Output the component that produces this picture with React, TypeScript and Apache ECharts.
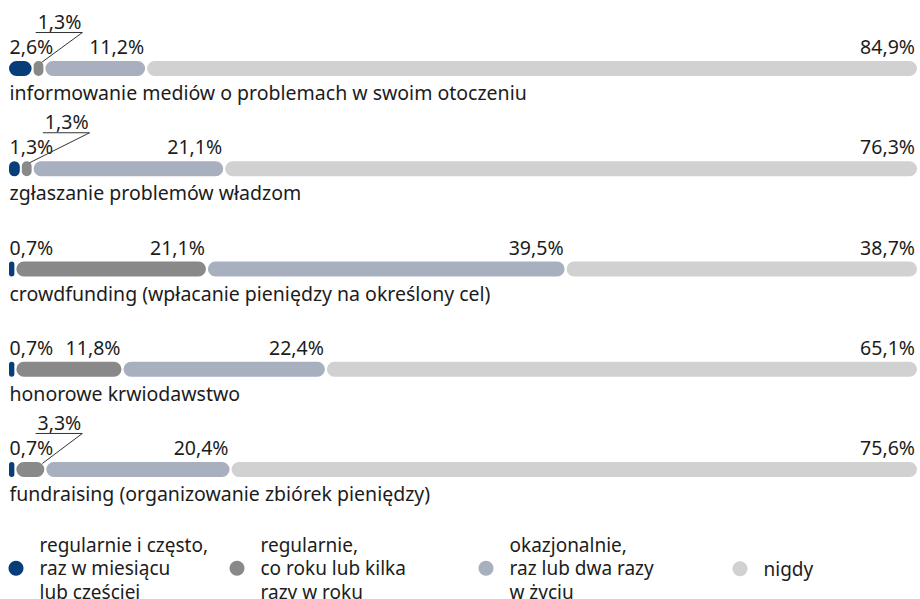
import React, { useEffect, useRef } from 'react';
import * as echarts from 'echarts';

const categories = [
  'informowanie mediów o problemach w swoim otoczeniu',
  'zgłaszanie problemów władzom',
  'crowdfunding (wpłacanie pieniędzy na określony cel)',
  'honorowe krwiodawstwo',
  'fundraising (organizowanie zbiórek pieniędzy)',
];
const seriesNames = [
  'regularnie i często,\nraz w miesiącu\nlub częściej',
  'regularnie,\nco roku lub kilka\nrazy w roku',
  'okazjonalnie,\nraz lub dwa razy\nw życiu',
  'nigdy',
];
const regularOften = [2.6, 1.3, 0.7, 0.7, 0.7];
const regularYearly = [1.3, 1.3, 21.1, 11.8, 3.3];
const occasional = [11.2, 21.1, 39.5, 22.4, 20.4];
const never = [84.9, 76.3, 38.7, 65.1, 75.6];
// rows where the "regularnie" label is shown as a call-out above
const calloutRows = [true, true, false, false, true];

const COLORS = ['#073d78', '#898989', '#a8afbe', '#d1d1d1'];
const TEXT = '#1c1c1c';
const FONT_FAMILY = '"Noto Sans", sans-serif';
const FONT_SIZE = 19.5;
const LEGEND_FONT_SIZE = 19;
const CALLOUT_SHIFT = [37, 56, 0, 0, 36];
const LEGEND_LEFT = [8.5, 229.5, 478.5, 732.5];

function measure(text: string): number {
  const c = document.createElement('canvas').getContext('2d');
  if (!c) return text.length * 10;
  c.font = `${FONT_SIZE}px ${FONT_FAMILY}`;
  return c.measureText(text).width;
}

const fmt = (v: number) => v.toFixed(1).replace('.', ',') + '%';

export default function App() {
  const ref = useRef<HTMLDivElement>(null);
  useEffect(() => {
    if (!ref.current) return;
    const chart = echarts.init(ref.current, undefined, { renderer: 'svg' });
    const all = [regularOften, regularYearly, occasional, never];
    const seriesData = all.map((arr, si) =>
      arr.map((v, row) => {
        let start = 0;
        for (let k = 0; k < si; k++) start += all[k][row];
        return [start, start + v, row, v];
      })
    );

    const renderItem = (si: number) => (params: any, api: any) => {
      const start = api.value(0);
      const end = api.value(1);
      const row = api.value(2);
      const val = api.value(3);
      const p0 = api.coord([start, row]);
      const p1 = api.coord([end, row]);
      const cy = p0[1];
      const h = 15;
      const x0 = p0[0] + (si > 0 ? 1 : 0);
      const w = Math.max(p1[0] - x0 - (si < 3 ? 1 : 0), 1);
      const children: any[] = [
        {
          type: 'rect',
          shape: { x: x0, y: cy - h / 2, width: w, height: h, r: Math.min(h / 2, w / 2) },
          style: { fill: COLORS[si] },
        },
      ];
      const text = fmt(val);
      const font = { fontSize: FONT_SIZE, fontFamily: FONT_FAMILY, fill: TEXT };
      if (si === 0) {
        children.push({
          type: 'text',
          style: { ...font, text, x: p0[0] + 0.5, y: cy - 22, align: 'left', verticalAlign: 'middle' },
        });
        children.push({
          type: 'text',
          style: { ...font, text: categories[row], x: p0[0] + 0.5, y: cy + 24, align: 'left', verticalAlign: 'middle' },
        });
      } else if (si === 1 && calloutRows[row]) {
        const right = p1[0] + CALLOUT_SHIFT[row];
        const tw = measure(text);
        const uy = cy - 36;
        children.push({
          type: 'text',
          style: { ...font, text, x: right, y: cy - 47, align: 'right', verticalAlign: 'middle' },
        });
        children.push({
          type: 'polyline',
          shape: { points: [[right - tw - 2, uy], [right + 1, uy], [p1[0] - 3, cy - 6]] },
          style: { stroke: '#333333', lineWidth: 1, fill: null },
        });
      } else {
        children.push({
          type: 'text',
          style: { ...font, text, x: p1[0] - 2, y: cy - 22, align: 'right', verticalAlign: 'middle' },
        });
      }
      return { type: 'group', children };
    };

    const option: any = {
      animation: false,
      grid: { left: 9, right: 3, top: 18.4, bottom: 79.4 },
      xAxis: { type: 'value', min: 0, max: 100, show: false },
      yAxis: { type: 'category', data: categories, inverse: true, show: false },
      legend: seriesNames.map((n, i) => ({
        data: [n],
        left: LEGEND_LEFT[i],
        top: i === 3 ? 557 : 533,
        padding: 0,
        icon: 'circle',
        itemWidth: 15,
        itemHeight: 15,
        selectedMode: false,
        textStyle: {
          fontSize: LEGEND_FONT_SIZE,
          fontFamily: FONT_FAMILY,
          color: TEXT,
          lineHeight: 23.5,
          padding: [0, 0, 0, 11],
        },
      })),
      series: seriesData.map((d, si) => ({
        type: 'custom',
        name: seriesNames[si],
        clip: false,
        itemStyle: { color: COLORS[si] },
        renderItem: renderItem(si),
        encode: { x: [0, 1], y: 2 },
        data: d,
      })),
    };
    chart.setOption(option);
    return () => chart.dispose();
  }, []);
  return (
    <div
      ref={ref}
      style={{ position: 'absolute', left: 0, top: 0, width: 920, height: 599, background: '#fff' }}
    />
  );
}
